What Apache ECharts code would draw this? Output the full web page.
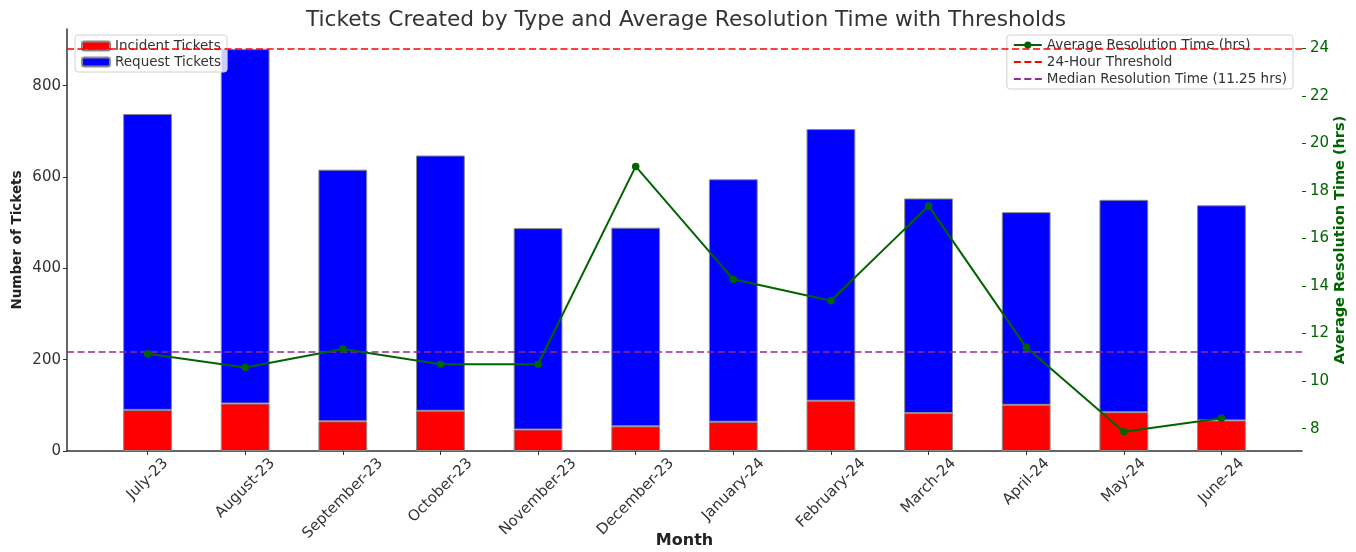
<!DOCTYPE html>
<html><head><meta charset="utf-8">
<script src="https://cdn.jsdelivr.net/npm/echarts@6/dist/echarts.min.js"></script>
<style>html,body{margin:0;padding:0;background:#fff}#c{width:1356px;height:552px}</style>
</head><body><div id="c"></div>
<script>
const months = ['July-23','August-23','September-23','October-23','November-23','December-23','January-24','February-24','March-24','April-24','May-24','June-24'];
const incidentTickets = [90,104,65,88,47,54,64,110,83,101,85,67];
const requestTickets = [648,776,551,559,441,435,531,595,470,422,465,471];
const avgResolutionHours = [11.15,10.57,11.35,10.71,10.71,19.03,14.28,13.38,17.37,11.42,7.87,8.44];
const thresholdHours = 24;
const medianHours = 11.25;
const leftTicks = [0,200,400,600,800];
const rightTicks = [8,10,12,14,16,18,20,22,24];
const monthIndex = months.map((_, i) => i);

const FONT = 'DejaVu Sans';
const LS = 15;
const ctx = document.createElement('canvas').getContext('2d');
ctx.font = LS + 'px "DejaVu Sans"';
const rich = {};
months.forEach((m, i) => {
  const L = ctx.measureText(m).width;
  const D = 0.3536 * (L + 17) + 4;
  const p = 1.4142 * D;
  rich['m' + i] = {fontSize: LS, fontFamily: FONT, color: '#333', lineHeight: 17, padding: [p, p, 0, 0]};
});

const chart = echarts.init(document.getElementById('c'), null, {renderer: 'canvas'});
const dashRed = {color: '#ff0000', type: [7, 3.5], width: 1.6};
const dashPurple = {color: '#922b92', type: [7, 3.5], width: 1.6};
const legendText = {fontFamily: FONT, fontSize: 13.5, color: '#333'};
chart.setOption({
  animation: false,
  textStyle: {fontFamily: FONT},
  title: {text: 'Tickets Created by Type and Average Resolution Time with Thresholds', left: 681, textAlign: 'center', top: 4,
    textStyle: {fontFamily: FONT, fontSize: 21.7, fontWeight: 'normal', color: '#333'}},
  legend: [
    {data: ['Incident Tickets', 'Request Tickets'], orient: 'vertical', left: 75, top: 35, itemWidth: 28, itemHeight: 9, itemGap: 2,
      padding: [4, 6, 3, 6], backgroundColor: 'rgba(255,255,255,0.8)', borderColor: '#d0d0d0', borderWidth: 1, borderRadius: 3,
      textStyle: legendText},
    {data: [
        {name: 'Average Resolution Time (hrs)'},
        {name: '24-Hour Threshold', itemStyle: {opacity: 0}},
        {name: 'Median Resolution Time (11.25 hrs)', itemStyle: {opacity: 0}}
      ], orient: 'vertical', right: 63, top: 35,
      itemWidth: 28, itemHeight: 9, itemGap: 3, padding: [3, 6], backgroundColor: 'rgba(255,255,255,0.8)', borderColor: '#d0d0d0', borderWidth: 1, borderRadius: 3,
      textStyle: legendText}
  ],
  grid: {left: 67, right: 54, top: 29, bottom: 101, containLabel: false, outerBoundsMode: 'none'},
  xAxis: {
    type: 'value', min: -0.825, max: 11.825,
    name: 'Month', nameLocation: 'middle', nameGap: 82, nameMoveOverlap: false,
    nameTextStyle: {fontFamily: FONT, fontSize: 16, fontWeight: 'bold', color: '#222'},
    axisLine: {show: true, onZero: false, lineStyle: {color: '#333', width: 1.5}},
    axisTick: {show: true, length: 4, customValues: monthIndex, lineStyle: {color: '#333'}},
    axisLabel: {customValues: monthIndex, rotate: 45, margin: 0, align: 'center', verticalAlign: 'middle',
      formatter: v => '{m' + v + '|' + months[v] + '}', rich: rich},
    splitLine: {show: false}
  },
  yAxis: [
    {type: 'value', min: 0, max: 924, position: 'left',
      name: 'Number of Tickets', nameLocation: 'middle', nameGap: 43, nameRotate: 90, nameMoveOverlap: false,
      nameTextStyle: {fontFamily: FONT, fontSize: 13.5, fontWeight: 'bold', color: '#222'},
      axisLine: {show: true, onZero: false, lineStyle: {color: '#333', width: 1.5}},
      axisTick: {show: true, length: 4, customValues: leftTicks, lineStyle: {color: '#333'}},
      axisLabel: {customValues: leftTicks, margin: 6, fontSize: 15, color: '#333', fontFamily: FONT},
      splitLine: {show: false}},
    {type: 'value', min: 7.06, max: 24.81, position: 'right',
      name: 'Average Resolution Time (hrs)', nameLocation: 'middle', nameGap: 31, nameRotate: 90, nameMoveOverlap: false,
      nameTextStyle: {fontFamily: FONT, fontSize: 14.5, fontWeight: 'bold', color: '#006400'},
      axisLine: {show: false, onZero: false},
      axisTick: {show: true, length: 4, customValues: rightTicks, lineStyle: {color: '#006400'}},
      axisLabel: {customValues: rightTicks, margin: 8, fontSize: 15, color: '#006400', fontFamily: FONT},
      splitLine: {show: false}}
  ],
  series: [
    {name: 'Incident Tickets', type: 'bar', stack: 'tickets', barWidth: 48.8,
      encode: {x: 1, y: 0},
      data: incidentTickets.map((v, i) => [v, monthIndex[i]]),
      itemStyle: {color: '#ff0000', borderColor: '#8a8a8a', borderWidth: 1}},
    {name: 'Request Tickets', type: 'bar', stack: 'tickets', barWidth: 48.8,
      encode: {x: 1, y: 0},
      data: requestTickets.map((v, i) => [v, monthIndex[i]]),
      itemStyle: {color: '#0000ff', borderColor: '#8a8a8a', borderWidth: 1}},
    {name: 'Average Resolution Time (hrs)', type: 'line', yAxisIndex: 1, z: 5,
      data: avgResolutionHours.map((v, i) => [monthIndex[i], v]),
      symbol: 'circle', symbolSize: 7.5, color: '#006400',
      lineStyle: {color: '#006400', width: 2}, itemStyle: {color: '#006400'}},
    {name: '24-Hour Threshold', type: 'line', yAxisIndex: 1, data: [], symbol: 'none', color: '#ff0000',
      lineStyle: dashRed,
      markLine: {silent: true, symbol: ['none', 'none'], label: {show: false}, lineStyle: dashRed, data: [{yAxis: thresholdHours}]}},
    {name: 'Median Resolution Time (11.25 hrs)', type: 'line', yAxisIndex: 1, data: [], symbol: 'none', color: '#922b92',
      lineStyle: dashPurple,
      markLine: {silent: true, symbol: ['none', 'none'], label: {show: false}, lineStyle: dashPurple, data: [{yAxis: medianHours}]}}
  ]
});
</script></body></html>
